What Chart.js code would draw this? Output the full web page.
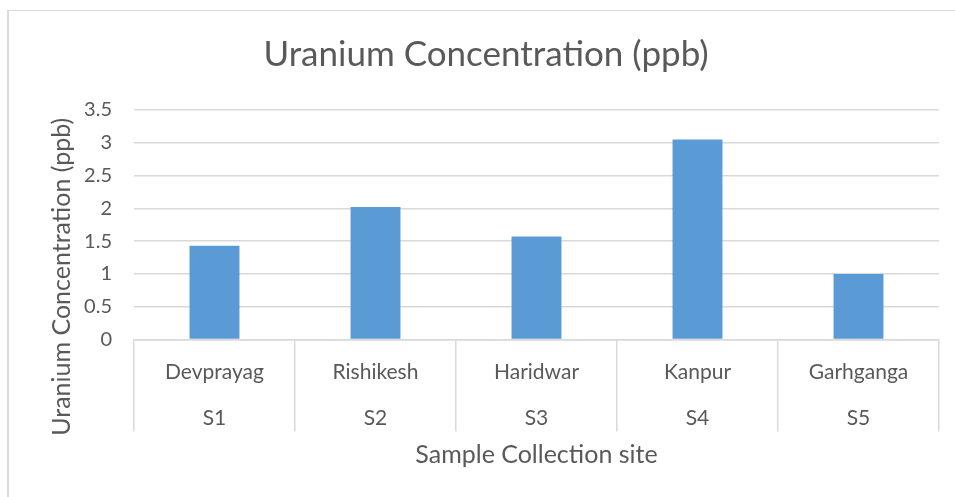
<!DOCTYPE html>
<html>
<head>
<meta charset="utf-8">
<script src="https://cdn.jsdelivr.net/npm/chart.js@4.4.1/dist/chart.umd.min.js"></script>
<style>
  html, body { margin: 0; padding: 0; background: #fff; }
  #wrap { position: relative; width: 955px; height: 497px; overflow: hidden; }
  #frame {
    position: absolute; left: 7px; top: 10px; width: 1000px; height: 600px;
    border-top: 1px solid #d9d9d9; border-left: 2px solid #d9d9d9;
  }
  #chart { position: absolute; left: 0; top: 0; }
</style>
</head>
<body>
<div id="wrap">
  <div id="frame"></div>
  <canvas id="chart" width="955" height="497"></canvas>
</div>
<script>
// --- datos del gráfico ---
const sites = ["Devprayag", "Rishikesh", "Haridwar", "Kanpur", "Garhganga"];
const siteCodes = ["S1", "S2", "S3", "S4", "S5"];
const uranium = [1.43, 2.02, 1.57, 3.05, 1.0];
const yMin = 0;
const yMax = 3.5;
const yStep = 0.5;

const chartTitle = "Uranium Concentration (ppb)";
const xTitle = "Sample Collection site";
const yTitle = "Uranium Concentration (ppb)";

const textColor = "#595959";
const gridColor = "#d9d9d9";
const fontFamily = "Lato, 'Open Sans', sans-serif";
const catTick = 92; // largo de los separadores de categoría

// título del eje Y, centrado como en Excel (área + etiquetas de categoría)
const yTitlePlugin = {
  id: "yTitle",
  afterDraw(chart) {
    const { ctx, scales } = chart;
    const cx = scales.y.left + 29;
    const cy = (chart.chartArea.top + scales.x.top + catTick) / 2 + 6;
    ctx.save();
    ctx.translate(cx, cy);
    ctx.rotate(-Math.PI / 2);
    ctx.fillStyle = textColor;
    ctx.font = "25px " + fontFamily;
    ctx.textAlign = "center";
    ctx.textBaseline = "middle";
    ctx.fillText(yTitle, 0, 0);
    ctx.restore();
  },
};

new Chart(document.getElementById("chart"), {
  type: "bar",
  data: {
    labels: sites.map((s, i) => [s, siteCodes[i]]),
    datasets: [
      {
        label: yTitle,
        data: uranium,
        backgroundColor: "#5b9bd5",
        borderWidth: 0,
        barPercentage: 0.31,
        categoryPercentage: 1,
      },
    ],
  },
  options: {
    responsive: false,
    animation: false,
    layout: { padding: { left: 33, right: 16, top: 0, bottom: 0 } },
    plugins: {
      legend: { display: false },
      tooltip: { enabled: false },
      title: {
        display: true,
        text: chartTitle,
        color: textColor,
        font: { family: fontFamily, size: 35, weight: "normal" },
        padding: { top: 34, bottom: 34 },
      },
    },
    scales: {
      x: {
        afterFit: (s) => { s.height = 157.5; },
        grid: {
          display: true,
          drawOnChartArea: false,
          drawTicks: true,
          tickLength: catTick,
          color: gridColor,
          lineWidth: 1.5,
        },
        border: { display: true, color: gridColor, width: 1.5 },
        ticks: {
          color: textColor,
          font: { family: fontFamily, size: 21, lineHeight: 46 / 21 },
          padding: -82,
          maxRotation: 0,
          autoSkip: false,
        },
        title: {
          display: true,
          text: xTitle,
          color: textColor,
          font: { family: fontFamily, size: 25 },
          padding: { top: 0, bottom: 27 },
        },
      },
      y: {
        min: yMin,
        max: yMax,
        afterFit: (s) => { s.width = 101; },
        ticks: {
          stepSize: yStep,
          color: textColor,
          font: { family: fontFamily, size: 20 },
          padding: 22,
          callback: (v) => String(+v.toFixed(1)),
        },
        grid: { color: gridColor, lineWidth: 1.5, drawTicks: false },
        border: { display: false },
      },
    },
  },
  plugins: [yTitlePlugin],
});
</script>
</body>
</html>
